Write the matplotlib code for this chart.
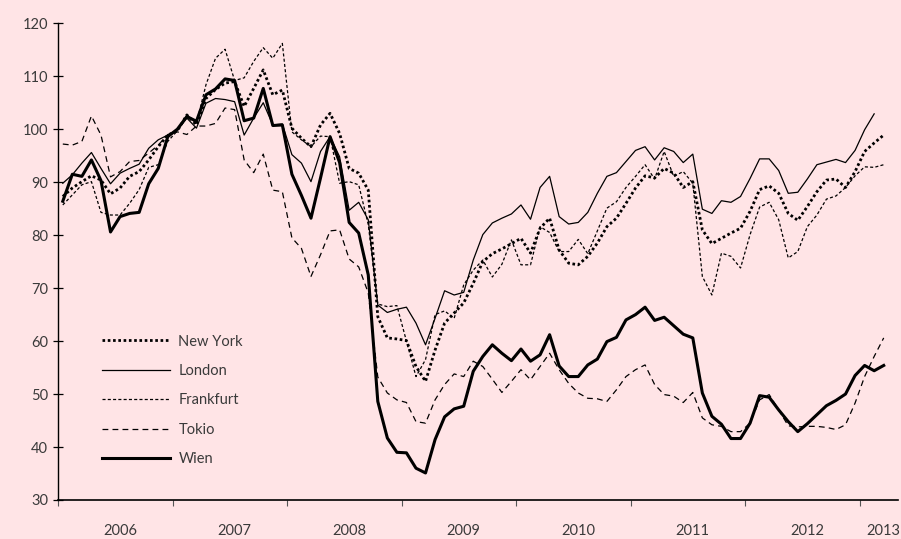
import matplotlib
matplotlib.use("Agg")
import matplotlib.pyplot as plt

# Monatswerte Jan 2006 - Mär 2013 (London bis Feb 2013)
new_york = [87.3, 88.9, 90.1, 91.2, 90.4, 87.8, 88.9, 91.1, 92.0, 94.2, 96.7, 98.9,
            99.7, 102.7, 100.8, 105.8, 107.5, 108.7, 109.0, 104.3, 107.7, 111.2, 106.5, 107.4,
            100.2, 98.3, 96.7, 100.8, 103.0, 99.2, 92.6, 91.7, 88.5, 64.6, 60.6, 60.4,
            60.1, 55.2, 52.4, 58.3, 63.4, 65.3, 67.2, 70.9, 75.0, 76.5, 77.4, 78.4,
            79.4, 76.6, 81.3, 83.2, 77.2, 74.7, 74.4, 76.0, 78.5, 81.6, 83.2, 86.0,
            88.9, 91.2, 90.8, 92.6, 91.7, 89.0, 90.1, 81.0, 78.4, 79.4, 80.4, 81.3,
            84.5, 88.6, 89.3, 87.9, 84.1, 82.8, 85.4, 88.2, 90.4, 90.6, 89.0, 92.0,
            95.8, 97.4, 98.9]
london = [89.8, 91.4, 93.6, 95.6, 92.6, 89.7, 91.7, 92.6, 93.4, 96.4, 98.0, 98.9,
          99.9, 102.1, 100.2, 104.9, 105.8, 105.6, 105.2, 98.9, 102.1, 105.0, 100.8, 101.0,
          95.2, 93.6, 90.1, 95.8, 98.6, 94.8, 84.7, 86.2, 82.9, 66.8, 65.4, 66.0,
          66.4, 63.4, 59.3, 64.3, 69.5, 68.7, 69.2, 75.3, 80.1, 82.3, 83.2, 84.0,
          85.7, 83.0, 89.0, 91.1, 83.5, 82.1, 82.4, 84.3, 87.9, 91.1, 91.8, 93.9,
          96.0, 96.7, 94.2, 96.5, 95.8, 93.7, 95.3, 84.9, 84.1, 86.5, 86.2, 87.3,
          90.7, 94.4, 94.4, 92.2, 87.9, 88.1, 90.6, 93.3, 93.8, 94.3, 93.7, 96.0,
          99.9, 102.9]
frankfurt = [85.7, 87.6, 89.5, 90.1, 84.3, 83.8, 83.8, 86.0, 88.6, 92.8, 93.3, 97.7,
             99.7, 102.7, 101.1, 108.4, 113.4, 115.1, 109.2, 109.7, 112.8, 115.4, 113.4, 116.2,
             99.5, 98.0, 96.7, 98.7, 98.6, 89.8, 90.1, 89.5, 82.0, 67.0, 66.5, 66.7,
             60.0, 53.3, 56.5, 65.0, 65.7, 64.3, 70.6, 73.4, 75.3, 72.1, 74.5, 79.1,
             74.4, 74.4, 81.6, 80.5, 76.9, 76.9, 79.2, 76.5, 80.8, 85.1, 86.3, 89.0,
             91.1, 93.3, 90.6, 95.8, 91.1, 92.0, 89.8, 72.2, 68.7, 76.6, 76.0, 73.8,
             80.1, 85.3, 86.2, 82.9, 75.7, 76.9, 81.6, 83.8, 86.8, 87.4, 89.0, 91.2,
             92.9, 92.8, 93.3]
tokio = [97.2, 97.0, 97.7, 102.5, 98.9, 91.0, 92.0, 93.9, 94.1, 95.5, 97.0, 99.0,
         99.5, 99.0, 100.6, 100.6, 101.1, 104.0, 103.7, 94.2, 91.8, 95.3, 88.5, 88.2,
         79.5, 77.5, 72.2, 76.3, 80.8, 81.0, 75.5, 74.0, 69.1, 53.2, 50.2, 48.9,
         48.4, 44.8, 44.5, 48.9, 51.8, 53.8, 53.3, 56.2, 55.2, 52.8, 50.3, 52.4,
         54.6, 52.7, 55.2, 57.7, 54.6, 52.0, 50.2, 49.2, 49.1, 48.6, 50.8, 53.3,
         54.6, 55.5, 51.8, 49.9, 49.6, 48.4, 50.3, 45.5, 44.2, 43.9, 42.9, 42.9,
         44.5, 48.9, 49.9, 47.0, 44.0, 43.8, 43.9, 43.9, 43.7, 43.3, 44.2, 48.3,
         53.3, 57.1, 60.6]
wien = [86.4, 91.5, 91.1, 94.2, 90.3, 80.6, 83.5, 84.1, 84.3, 89.7, 92.6, 98.6,
        100.0, 102.4, 101.5, 106.5, 107.6, 109.5, 109.2, 101.6, 102.1, 107.7, 100.7, 100.8,
        91.5, 87.5, 83.2, 90.8, 98.6, 93.7, 82.4, 80.4, 72.5, 48.6, 41.7, 39.0,
        38.9, 36.0, 35.1, 41.4, 45.7, 47.2, 47.7, 54.3, 57.1, 59.3, 57.7, 56.3,
        58.5, 56.2, 57.4, 61.2, 55.3, 53.3, 53.3, 55.5, 56.6, 59.9, 60.7, 64.0,
        65.0, 66.4, 63.9, 64.5, 62.9, 61.3, 60.6, 50.2, 45.8, 44.3, 41.6, 41.6,
        44.5, 49.7, 49.4, 47.0, 44.8, 42.9, 44.4, 46.1, 47.8, 48.8, 50.0, 53.5,
        55.4, 54.4, 55.4]

years = ["2006", "2007", "2008", "2009", "2010", "2011", "2012", "2013"]

bg = "#FFE4E6"
txt = "#3a3a3a"
plt.rcParams["font.family"] = ["Lato", "DejaVu Sans"]
plt.rcParams["lines.scale_dashes"] = False

fig = plt.figure(figsize=(9.01, 5.39), dpi=100, facecolor=bg)
ax = fig.add_axes([0.0644, 0.0724, 0.9323, 0.8844])
ax.set_facecolor(bg)

ax.plot(range(len(new_york)), new_york, color="black", lw=2.0,
        linestyle=(0, (1.9, 1.9)), label="New York")
ax.plot(range(len(london)), london, color="black", lw=0.9, label="London")
ax.plot(range(len(frankfurt)), frankfurt, color="black", lw=0.9,
        linestyle=(0, (2.2, 1.6)), label="Frankfurt")
ax.plot(range(len(tokio)), tokio, color="black", lw=0.9,
        linestyle=(0, (4.2, 3.0)), label="Tokio")
ax.plot(range(len(wien)), wien, color="black", lw=2.2, label="Wien")

ax.set_xlim(-0.5, 87.5)
ax.set_ylim(30, 120)
ax.set_yticks(range(30, 121, 10))

# Jahresgrenzen als Striche, Jahreszahlen dazwischen
ax.set_xticks([12 * k - 0.5 for k in range(8)])
ax.set_xticklabels([])
ax.set_xticks([12 * k + 6 for k in range(7)] + [86], minor=True)
ax.set_xticklabels(years, minor=True)
ax.tick_params(axis="x", which="major", direction="out", length=4.5, width=0.8, color="#555555")
ax.tick_params(axis="x", which="minor", length=0, pad=17, labelsize=10.5, labelcolor=txt)
ax.tick_params(axis="y", direction="inout", length=7, width=0.9, pad=3.5,
               labelsize=10.5, labelcolor=txt)

for s in ["top", "right"]:
    ax.spines[s].set_visible(False)
ax.spines["left"].set_linewidth(1.0)
ax.spines["bottom"].set_linewidth(1.2)

leg = ax.legend(loc="center left", bbox_to_anchor=(0.1129, 0.2570),
                bbox_transform=fig.transFigure, frameon=False, fontsize=10.5,
                handlelength=4.7, handletextpad=0.55, labelspacing=1.06,
                borderpad=0, borderaxespad=0)
for t in leg.get_texts():
    t.set_color(txt)

fig.savefig("out.png", dpi=100, facecolor=bg)
